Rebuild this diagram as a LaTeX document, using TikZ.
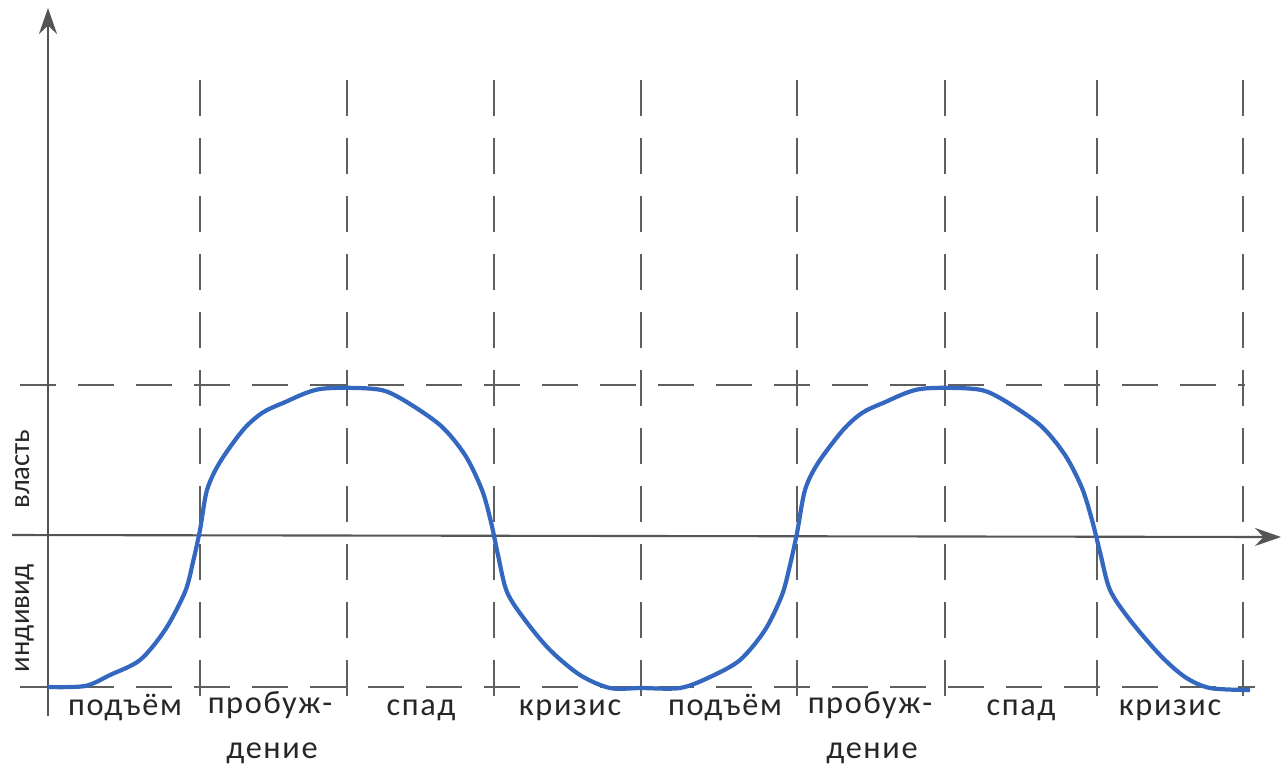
\documentclass[tikz,border=0pt]{standalone}
\usepackage{fontspec}
\setmainfont{Carlito}
\newfontfamily\lblfont[LetterSpace=5]{Carlito}
\usetikzlibrary{arrows.meta}
\definecolor{curveblue}{RGB}{52,104,192}
\definecolor{axisgray}{RGB}{85,85,85}
\definecolor{gridgray}{RGB}{95,95,95}
\begin{document}
\begin{tikzpicture}[x=0.1mm,y=-0.1mm,
  axis/.style={axisgray,line width=0.6pt,-{Stealth[length=2.6mm,width=1.8mm]}},
  guide/.style={gridgray,line width=0.45pt,dash pattern=on 3.6mm off 2.2mm},
  stage/.style={font=\lblfont\fontsize{9.2}{11}\selectfont,text=black!85,inner sep=0pt,anchor=base},
  side/.style={font=\fontsize{8.2}{10}\selectfont,text=black!85,inner sep=0pt,anchor=base,rotate=90}]
  \useasboundingbox (0,0) rectangle (1283,766);
  % Фазы: подъём | пробуждение | спад | кризис (два цикла)
  \coordinate (O) at (48,716);
  \coordinate (ytop) at (48,8);
  \coordinate (xl) at (12,535);
  \coordinate (xr) at (1281,537);
  \foreach \x [count=\i] in {200,347,494,641,797,945,1097,1243} {
    \coordinate (vt\i) at (\x,80);
    \coordinate (vb\i) at (\x,706);
    \draw[guide] (vt\i) -- (vb\i);
  }
  \coordinate (hl1) at (20,385);  \coordinate (hr1) at (1245,385);
  \coordinate (hl2) at (20,687);  \coordinate (hr2) at (1255,687);
  \draw[guide] (hl1) -- (hr1);
  \draw[guide] (hl2) -- (hr2);
  \draw[axis] (O) -- (ytop);
  \draw[axis] (xl) -- (xr);
  \draw[curveblue,line width=1.2pt,line join=round] plot[smooth,tension=0.5] coordinates {
    (48,687) (85,686) (110,675) (140,660) (165,630) (185,592) (193,562) (200,530)
    (207,490) (220,462) (243,430) (262,413) (283,403) (320,389) (375,389) (400,398)
    (440,425) (465,455) (482,490) (491,522) (498,555) (507,592) (525,620) (550,650)
    (580,675) (610,688) (641,688)
    (680,688) (710,677) (740,660) (765,630) (782,595) (790,565) (797,533) (805,490)
    (818,463) (843,430) (862,413) (883,403) (920,389) (975,389) (1000,398) (1040,425)
    (1065,455) (1082,488) (1092,520) (1100,552) (1110,590) (1130,620) (1160,655)
    (1185,677) (1210,688) (1250,690)};
  \node[side] (vlast) at (29,469) {власть};
  \node[side] (indiv) at (29,618) {индивид};
  \foreach \x/\c in {0/a,600/b} {
    \node[stage] (podem\c) at (125+\x,715) {подъём};
    \node[stage] (probu\c) at (270+\x,713) {пробуж-};
    \node[stage] (denie\c) at (272+\x,758) {дение};
    \node[stage] (spad\c) at (421+\x,715) {спад};
    \node[stage] (kriz\c) at (570+\x,715) {кризис};
  }
\end{tikzpicture}
\end{document}
